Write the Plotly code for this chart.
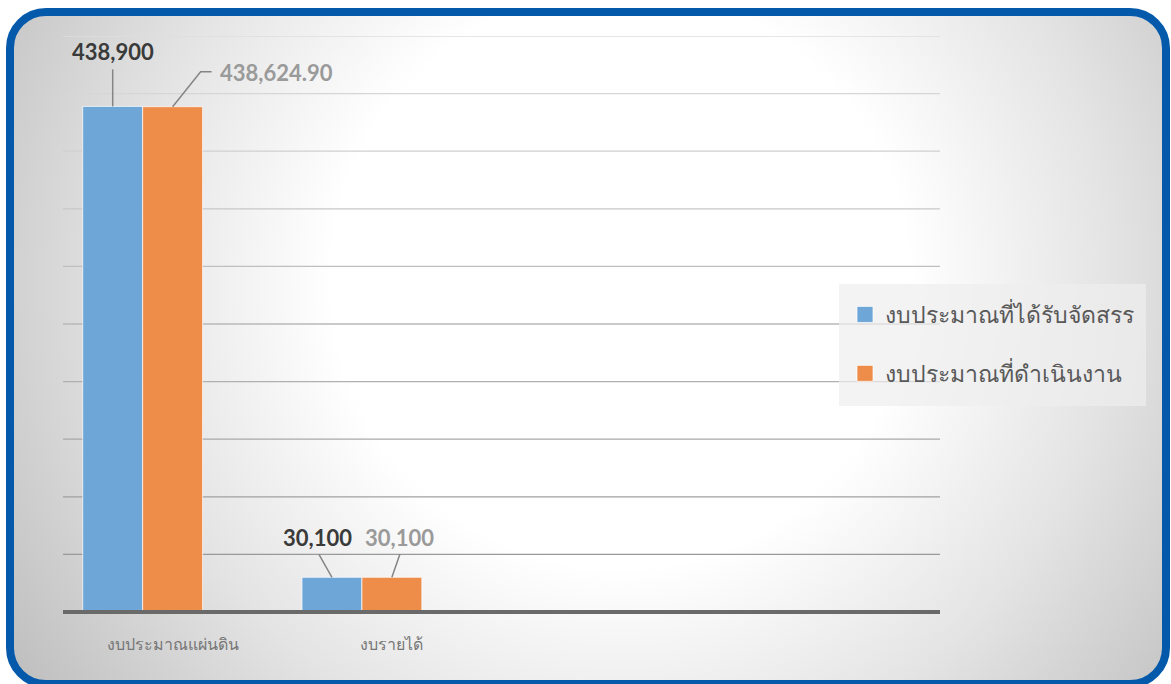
import base64
import plotly.graph_objects as go

# ---------------- data ----------------
categories = ["งบประมาณแผ่นดิน", "งบรายได้"]
series_names = ["งบประมาณที่ได้รับจัดสรร", "งบประมาณที่ดำเนินงาน"]
allocated = [438900, 30100]
operated = [438624.90, 30100]
allocated_labels = ["438,900", "30,100"]
operated_labels = ["438,624.90", "30,100"]
y_ticks = [0, 50000, 100000, 150000, 200000, 250000, 300000, 350000, 400000, 450000, 500000]

# ---------------- geometry / style ----------------
W, H = 1171, 684
ML, MR, MT, MB = 63, 231, 36, 72
PW, PH = W - ML - MR, H - MT - MB

def px_x(p):
    return (p - ML) / PW

def px_y(p):
    return (H - MB - p) / PH

BLUE = "#6fa6d8"
ORANGE = "#ee8c4a"
FONT = "Lato, 'Noto Sans', sans-serif"

bg_svg = f"""<svg xmlns='http://www.w3.org/2000/svg' width='{W}' height='{H}' viewBox='0 0 {W} {H}'>
<defs>
<radialGradient id='g' gradientUnits='userSpaceOnUse' cx='620' cy='280' r='720'>
<stop offset='0' stop-color='#ffffff'/>
<stop offset='0.40' stop-color='#ffffff'/>
<stop offset='0.68' stop-color='#e4e4e4'/>
<stop offset='1' stop-color='#bfbfbf'/>
</radialGradient>
</defs>
<rect x='0' y='0' width='{W}' height='{H}' fill='#ffffff'/>
<rect x='10' y='12' width='1156' height='672' rx='36' ry='36' fill='url(#g)' stroke='#0559ab' stroke-width='8'/>
</svg>"""
bg_uri = "data:image/svg+xml;base64," + base64.b64encode(bg_svg.encode()).decode()

fig = go.Figure()
xs = list(range(len(categories)))

fig.add_trace(go.Bar(x=xs, y=allocated, name=series_names[0], marker=dict(color=BLUE, line=dict(color="rgba(255,255,255,0.7)", width=1)),
                     showlegend=False, hoverinfo="skip"))
fig.add_trace(go.Bar(x=xs, y=operated, name=series_names[1], marker=dict(color=ORANGE, line=dict(color="rgba(255,255,255,0.7)", width=1)),
                     showlegend=False, hoverinfo="skip"))
# empty third slot (as in the source chart layout)
fig.add_trace(go.Bar(x=xs, y=[0 for _ in xs], marker=dict(color="rgba(0,0,0,0)", line=dict(width=0)),
                     showlegend=False, hoverinfo="skip"))

# legend entries with larger square swatches
for nm, col, grp in [(series_names[0], BLUE, "a"), (series_names[1], ORANGE, "b")]:
    fig.add_trace(go.Scatter(x=[None], y=[None], mode="markers", name=nm, legendgroup=grp,
                             marker=dict(symbol="square", size=18, color=col, line=dict(color="rgba(255,255,255,0.7)", width=1))))

BARGAP = 0.18
bw = (1 - BARGAP) / 3
blue_off = -bw
orange_off = 0.0

# gridlines with vertical colour fade (light at top, darker at bottom)
def lerp(c1, c2, t):
    return "#%02x%02x%02x" % tuple(int(round(a + (b - a) * t)) for a, b in zip(c1, c2))

top_c, bot_c = (222, 222, 222), (145, 145, 145)
for v in y_ticks[1:]:
    t = 1 - v / y_ticks[-1]
    fig.add_shape(type="line", xref="paper", yref="y", x0=0, x1=1, y0=v, y1=v,
                  line=dict(color=lerp(top_c, bot_c, t), width=1.3), layer="below")
# baseline (paper refs so it is not clipped at the plot edge)
fig.add_shape(type="line", xref="paper", yref="paper", x0=0, x1=1, y0=0, y1=0,
              line=dict(color="#6a6a6a", width=4), layer="above")

# legend background panel
fig.add_shape(type="rect", xref="paper", yref="paper", x0=px_x(839), x1=px_x(1146), y0=px_y(406), y1=px_y(284),
              fillcolor="rgba(238,238,238,0.7)", line=dict(width=0), layer="below")

# data labels + leader lines
label_specs = [
    (allocated, allocated_labels, blue_off, "#3a3a3a",
     [(0, 55, "M0,0 L0,37"), (-14, 40, "M0,0 L-13,23")]),
    (operated, operated_labels, orange_off, "#9a9a9a",
     [(104, 34, "M0,0 L28,35 L39,35"), (8, 40, "M0,0 L8,23")]),
]
for vals, labs, off, col, specs in label_specs:
    for i, (v, lab, (xs_, ys_, path)) in enumerate(zip(vals, labs, specs)):
        xc = i + off
        fig.add_annotation(x=xc, y=v, xref="x", yref="y", text=f"<b>{lab}</b>", showarrow=False,
                           xshift=xs_, yshift=ys_, font=dict(family=FONT, size=22, color=col))
        fig.add_shape(type="path", xref="x", yref="y", xsizemode="pixel", ysizemode="pixel",
                      xanchor=xc, yanchor=v, path=path, line=dict(color="#858585", width=1.5))

fig.update_layout(
    width=W, height=H,
    margin=dict(l=ML, r=MR, t=MT, b=MB, pad=0),
    paper_bgcolor="white", plot_bgcolor="rgba(0,0,0,0)",
    barmode="group", bargap=BARGAP, bargroupgap=0,
    font=dict(family=FONT, color="#595959"),
    images=[dict(source=bg_uri, xref="paper", yref="paper", x=-ML / PW, y=1 + MT / PH,
                 sizex=W / PW, sizey=H / PH, sizing="stretch", layer="below", xanchor="left", yanchor="top")],
    xaxis=dict(range=[-0.5, 3.5], tickvals=xs, ticktext=categories, showgrid=False, zeroline=False,
               showline=False, ticks="outside", ticklen=18, tickcolor="rgba(0,0,0,0)",
               tickfont=dict(size=16, color="#767676"), fixedrange=True),
    yaxis=dict(range=[y_ticks[0], y_ticks[-1]], tickvals=y_ticks, showticklabels=False, showgrid=False,
               zeroline=False, showline=False, fixedrange=True),
    legend=dict(x=px_x(845), y=px_y(293), xanchor="left", yanchor="top",
                bgcolor="rgba(0,0,0,0)", borderwidth=0, tracegroupgap=26,
                font=dict(size=23, color="#595959"), itemsizing="trace"),
    showlegend=True,
)

fig.write_html("out.html", config={"displayModeBar": False},
               post_script="document.body.style.margin='0';document.body.style.overflow='hidden';")
